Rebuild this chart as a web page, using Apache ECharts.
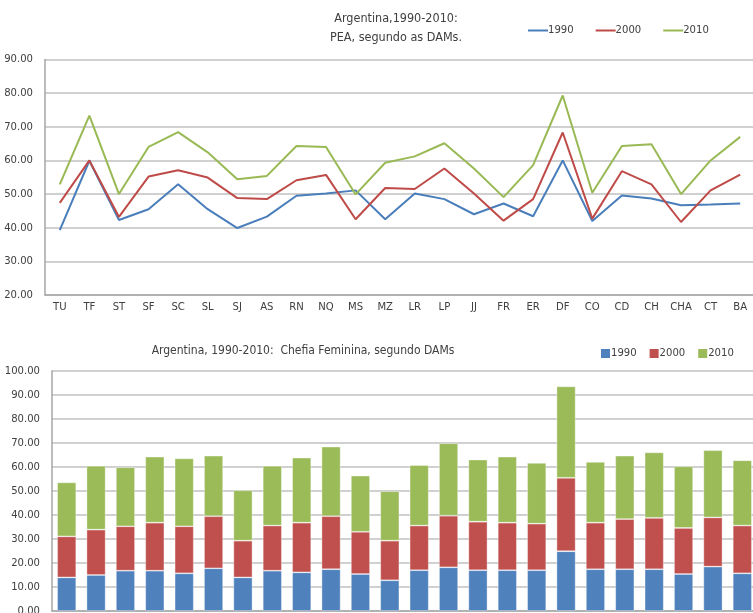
<!DOCTYPE html>
<html>
<head>
<meta charset="utf-8">
<script src="https://cdn.jsdelivr.net/npm/echarts@6/dist/echarts.min.js"></script>
<style>
  html, body { margin: 0; padding: 0; background: #fff; }
  #chart { width: 753px; height: 613px; }
</style>
</head>
<body>
<div id="chart"></div>
<script>
// Departments (DAMs)
const categories = ['TU','TF','ST','SF','SC','SL','SJ','AS','RN','NQ','MS','MZ','LR','LP','JJ','FR','ER','DF','CO','CD','CH','CHA','CT','BA'];
const years = ['1990', '2000', '2010'];

// PEA by department
const pea1990 = [39.3,59.9,42.3,45.5,52.9,45.5,39.9,43.3,49.5,50.2,51.1,42.5,50.2,48.5,44.0,47.2,43.4,60.0,42.0,49.6,48.7,46.7,46.9,47.2];
const pea2000 = [47.4,60.0,43.2,55.2,57.1,54.9,48.8,48.5,54.1,55.7,42.5,51.8,51.5,57.6,50.2,42.1,48.5,68.3,42.7,56.8,52.9,41.7,51.1,55.8];
const pea2010 = [52.9,73.3,50.0,64.0,68.4,62.4,54.4,55.4,64.3,64.0,49.9,59.3,61.2,65.1,57.6,49.1,58.6,79.3,50.4,64.3,64.8,50.0,60.0,67.0];

// Female household headship by department (stacked segments)
const chefia1990 = [14.0,15.0,16.8,16.8,15.7,17.8,14.0,16.8,16.1,17.4,15.4,12.8,17.0,18.2,17.0,17.0,17.0,24.9,17.4,17.4,17.4,15.4,18.5,15.7];
const chefia2000 = [17.1,18.9,18.5,20.0,19.6,21.7,15.3,18.8,20.7,22.1,17.6,16.5,18.6,21.5,20.2,19.8,19.4,30.6,19.4,20.9,21.4,19.2,20.5,19.9];
const chefia2010 = [22.5,26.6,24.6,27.5,28.3,25.2,21.0,24.9,27.1,29.0,23.4,20.6,25.2,30.2,25.9,27.5,25.3,38.1,25.3,26.4,27.3,25.7,28.0,27.2];

const lineColors = ['#4a7ebb', '#be4b48', '#98b954'];
const barColors = ['#4f81bd', '#c0504d', '#9bbb59'];

// Prefer a narrow face when one is installed
function hasFont(name) {
  const ctx = document.createElement('canvas').getContext('2d');
  const probe = 'Argentina 1990-2010 mmmWWW';
  ctx.font = '40px monospace';
  const base = ctx.measureText(probe).width;
  ctx.font = '40px "' + name + '", monospace';
  return ctx.measureText(probe).width !== base;
}
const narrow = hasFont('Liberation Sans Narrow');
const FONT = narrow ? '"Liberation Sans Narrow", sans-serif' : '"DejaVu Sans Condensed", sans-serif';
const k = narrow ? 1 : 0.86;   // size scale for the wider fallback
const textColor = '#404040';
const gridColor = '#c0c0c0';

const fmt = v => v.toFixed(2);

const chart = echarts.init(document.getElementById('chart'));

const lineSeries = [pea1990, pea2000, pea2010].map((d, i) => ({
  type: 'line',
  name: years[i],
  xAxisIndex: 0, yAxisIndex: 0,
  data: d,
  symbol: 'none',
  lineStyle: { width: 2, color: lineColors[i] },
  itemStyle: { color: lineColors[i] }
}));

const barSeries = [chefia1990, chefia2000, chefia2010].map((d, i) => ({
  type: 'bar',
  name: years[i],
  xAxisIndex: 1, yAxisIndex: 1,
  stack: 'chefia',
  data: d,
  barCategoryGap: '35%',
  itemStyle: { color: barColors[i], borderColor: 'rgba(255,255,255,0.45)', borderWidth: 0.8 }
}));

const axisCommon = {
  axisLine: { show: true, lineStyle: { color: '#a6a6a6', width: 1.5 } },
  axisTick: { show: false },
  splitLine: { show: true, lineStyle: { color: gridColor, width: 1.5 } }
};

const labelSize = Math.round(13 * k * 10) / 10;
const titleSize = Math.round(14.5 * k * 10) / 10;
const subTitleSize = Math.round(14 * k * 10) / 10;

chart.setOption({
  animation: false,
  backgroundColor: '#fff',
  textStyle: { fontFamily: FONT },
  title: [
    {
      text: 'Argentina,1990-2010:\nPEA, segundo as DAMs.',
      left: 396, top: 9, textAlign: 'center', padding: 0,
      textStyle: { fontFamily: FONT, fontSize: titleSize, fontWeight: 'normal', color: textColor, lineHeight: 19 }
    },
    {
      text: 'Argentina, 1990-2010:  Chefia Feminina, segundo DAMs',
      left: 303, top: 345, textAlign: 'center', padding: 0,
      textStyle: { fontFamily: FONT, fontSize: subTitleSize, fontWeight: 'normal', color: textColor }
    }
  ],
  legend: [
    {
      data: years.map((y, i) => ({ name: y, itemStyle: { color: lineColors[i] } })),
      left: 528, top: 25, width: 300, padding: 0,
      icon: 'rect', itemWidth: 20, itemHeight: 2, itemGap: 22,
      textStyle: { fontFamily: FONT, fontSize: labelSize, color: textColor, padding: [0, 0, 0, -5] }
    },
    {
      data: years.map((y, i) => ({ name: y, itemStyle: { color: barColors[i] } })),
      left: 601, top: 348, width: 300, padding: 0,
      icon: 'rect', itemWidth: 9, itemHeight: 9, itemGap: 13,
      textStyle: { fontFamily: FONT, fontSize: labelSize, color: textColor, padding: [0, 0, 0, -4] }
    }
  ],
  grid: [
    { left: 45, top: 59.5, right: -2, height: 235.5, containLabel: false, outerBoundsMode: 'none' },
    { left: 52, top: 371, right: -4, height: 240, containLabel: false, outerBoundsMode: 'none' }
  ],
  xAxis: [
    {
      gridIndex: 0, type: 'category', data: categories, boundaryGap: true,
      axisLine: { show: true, lineStyle: { color: '#a6a6a6', width: 1.5 } },
      axisTick: { show: false },
      axisLabel: { color: textColor, fontFamily: FONT, fontSize: labelSize, margin: 7, interval: 0 }
    },
    {
      gridIndex: 1, type: 'category', data: categories, boundaryGap: true,
      axisLine: { show: true, lineStyle: { color: '#a6a6a6', width: 1.5 } },
      axisTick: { show: false },
      axisLabel: { color: textColor, fontFamily: FONT, fontSize: labelSize, margin: 7, interval: 0 }
    }
  ],
  yAxis: [
    Object.assign({
      gridIndex: 0, type: 'value', min: 20, max: 90, interval: 10,
      axisLabel: { color: textColor, fontFamily: FONT, fontSize: labelSize, margin: 12, formatter: fmt }
    }, axisCommon),
    Object.assign({
      gridIndex: 1, type: 'value', min: 0, max: 100, interval: 10,
      axisLabel: { color: textColor, fontFamily: FONT, fontSize: labelSize, margin: 12, formatter: fmt }
    }, axisCommon)
  ],
  series: lineSeries.concat(barSeries)
});
</script>
</body>
</html>
